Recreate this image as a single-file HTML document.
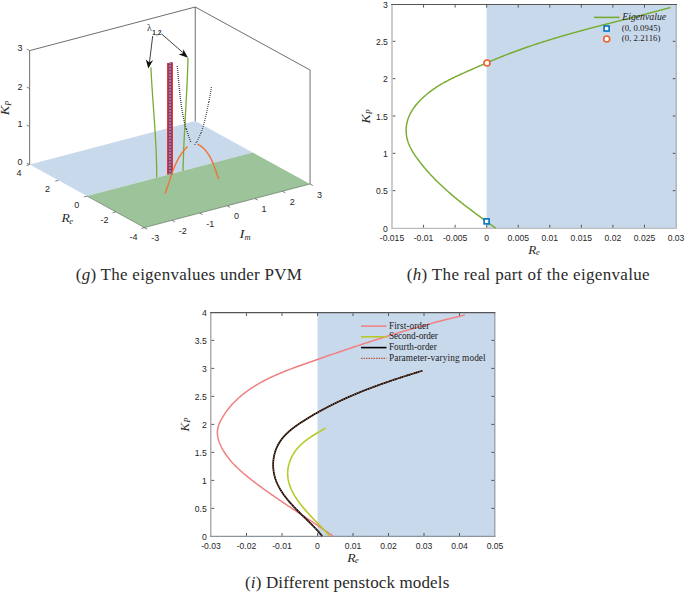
<!DOCTYPE html>
<html><head><meta charset="utf-8"><title>Figure</title>
<style>html,body{margin:0;padding:0;background:#fff;overflow:hidden;}svg{display:block;}</style>
</head><body>
<svg width="685" height="593" viewBox="0 0 685 593">
<rect width="685" height="593" fill="#fff"/>
<polyline points="29.65,164.60 29.65,50.60 195.25,7.00 310.05,70.00 310.05,184.00" fill="none" stroke="#5e5e5e" stroke-width="0.9"/>
<line x1="195.25" y1="7.00" x2="195.25" y2="121.00" stroke="#5e5e5e" stroke-width="0.9"/>
<polygon points="29.65,164.60 195.25,121.00 252.65,152.50 87.05,196.10" fill="#c9d9ec"/>
<polygon points="87.05,196.10 252.65,152.50 310.05,184.00 144.45,227.60" fill="#9cc39a"/>
<polyline points="87.05,196.10 144.45,227.60 310.05,184.00" fill="none" stroke="#4e5e4e" stroke-width="0.7" stroke-opacity="0.8"/>
<g stroke="#5e5e5e" stroke-width="0.8">
<line x1="29.65" y1="164.60" x2="26.84" y2="163.06"/>
<line x1="29.65" y1="126.60" x2="26.84" y2="125.06"/>
<line x1="29.65" y1="88.60" x2="26.84" y2="87.06"/>
<line x1="29.65" y1="50.60" x2="26.84" y2="49.06"/>
<line x1="29.65" y1="164.60" x2="26.56" y2="165.42"/>
<line x1="58.35" y1="180.35" x2="55.26" y2="181.17"/>
<line x1="87.05" y1="196.10" x2="83.96" y2="196.92"/>
<line x1="115.75" y1="211.85" x2="112.66" y2="212.67"/>
<line x1="144.45" y1="227.60" x2="141.36" y2="228.42"/>
<line x1="144.45" y1="227.60" x2="147.26" y2="229.14"/>
<line x1="172.05" y1="220.33" x2="174.86" y2="221.87"/>
<line x1="199.65" y1="213.07" x2="202.46" y2="214.61"/>
<line x1="227.25" y1="205.80" x2="230.06" y2="207.34"/>
<line x1="254.85" y1="198.53" x2="257.66" y2="200.07"/>
<line x1="282.45" y1="191.27" x2="285.26" y2="192.81"/>
<line x1="310.05" y1="184.00" x2="312.86" y2="185.54"/>
</g>
<g font-family="'Liberation Sans', sans-serif" font-size="9" fill="#262626" text-anchor="middle">
<text x="20" y="51.3">3</text>
<text x="20" y="89.7">2</text>
<text x="20" y="127.3">1</text>
<text x="20" y="165.0">0</text>
<text x="19.0" y="175.6">4</text>
<text x="47.6" y="191.5">2</text>
<text x="76.8" y="207.7">0</text>
<text x="104.4" y="223.3">-2</text>
<text x="133.6" y="239.9">-4</text>
<text x="155.3" y="240.9">-3</text>
<text x="182.8" y="234.0">-2</text>
<text x="210.3" y="226.8">-1</text>
<text x="236.4" y="218.8">0</text>
<text x="264.1" y="211.8">1</text>
<text x="292.3" y="204.6">2</text>
<text x="319.5" y="197.7">3</text>
</g>
<g transform="translate(9.40,115.30) rotate(-90)" font-family="'Liberation Serif', serif" font-style="italic" fill="#2a2a2a">
<text x="0" y="0" font-size="12.00" textLength="9.60" lengthAdjust="spacingAndGlyphs">K</text>
<text x="9.60" y="1.40" font-size="8.00">P</text>
</g>
<g font-family="'Liberation Serif', serif" font-style="italic" fill="#2a2a2a">
<text x="61.60" y="222.40" font-size="12.50" textLength="8.30" lengthAdjust="spacingAndGlyphs">R</text>
<text x="69.20" y="223.60" font-size="8.50">e</text>
</g>
<g font-family="'Liberation Serif', serif" font-style="italic" fill="#2a2a2a">
<text x="239.50" y="238.40" font-size="12.50" textLength="5.00" lengthAdjust="spacingAndGlyphs">I</text>
<text x="244.40" y="239.50" font-size="8.50">m</text>
</g>
<path d="M150.90,67.40 L150.92,67.77 L150.93,68.14 L150.95,68.51 L150.97,68.87 L150.99,69.24 L151.01,69.61 L151.02,69.98 L151.04,70.35 L151.06,70.72 L151.08,71.09 L151.10,71.46 L151.12,71.82 L151.14,72.19 L151.16,72.56 L151.18,72.93 L151.20,73.30 L151.22,73.67 L151.24,74.04 L151.26,74.40 L151.28,74.77 L151.30,75.14 L151.32,75.51 L151.34,75.88 L151.36,76.25 L151.38,76.62 L151.40,76.98 L151.42,77.35 L151.44,77.72 L151.46,78.09 L151.49,78.46 L151.51,78.83 L151.53,79.20 L151.55,79.56 L151.57,79.93 L151.59,80.30 L151.62,80.67 L151.64,81.04 L151.66,81.41 L151.68,81.77 L151.71,82.14 L151.73,82.51 L151.75,82.88 L151.77,83.25 L151.80,83.62 L151.82,83.98 L151.84,84.35 L151.87,84.72 L151.89,85.09 L151.91,85.46 L151.94,85.83 L151.96,86.19 L151.99,86.56 L152.01,86.93 L152.03,87.30 L152.06,87.67 L152.08,88.04 L152.11,88.40 L152.13,88.77 L152.15,89.14 L152.18,89.51 L152.20,89.88 L152.23,90.25 L152.25,90.61 L152.28,90.98 L152.30,91.35 L152.33,91.72 L152.35,92.09 L152.38,92.46 L152.40,92.82 L152.43,93.19 L152.45,93.56 L152.48,93.93 L152.50,94.30 L152.53,94.67 L152.55,95.03 L152.58,95.40 L152.60,95.77 L152.63,96.14 L152.66,96.51 L152.68,96.88 L152.71,97.24 L152.73,97.61 L152.76,97.98 L152.78,98.35 L152.81,98.72 L152.84,99.08 L152.86,99.45 L152.89,99.82 L152.91,100.19 L152.94,100.56 L152.97,100.93 L152.99,101.29 L153.02,101.66 L153.04,102.03 L153.07,102.40 L153.10,102.77 L153.12,103.13 L153.15,103.50 L153.17,103.87 L153.20,104.24 L153.23,104.61 L153.25,104.98 L153.28,105.34 L153.31,105.71 L153.33,106.08 L153.36,106.45 L153.38,106.82 L153.41,107.18 L153.44,107.55 L153.46,107.92 L153.49,108.29 L153.52,108.66 L153.54,109.03 L153.57,109.39 L153.60,109.76 L153.62,110.13 L153.65,110.50 L153.67,110.87 L153.70,111.23 L153.73,111.60 L153.75,111.97 L153.78,112.34 L153.80,112.71 L153.83,113.08 L153.86,113.44 L153.88,113.81 L153.91,114.18 L153.94,114.55 L153.96,114.92 L153.99,115.29 L154.01,115.65 L154.04,116.02 L154.07,116.39 L154.09,116.76 L154.12,117.13 L154.14,117.49 L154.17,117.86 L154.19,118.23 L154.22,118.60 L154.25,118.97 L154.27,119.34 L154.30,119.70 L154.32,120.07 L154.35,120.44 L154.37,120.81 L154.40,121.18 L154.42,121.54 L154.45,121.91 L154.47,122.28 L154.50,122.65 L154.52,123.02 L154.55,123.39 L154.57,123.75 L154.60,124.12 L154.62,124.49 L154.65,124.86 L154.67,125.23 L154.70,125.60 L154.72,125.96 L154.75,126.33 L154.77,126.70 L154.79,127.07 L154.82,127.44 L154.84,127.81 L154.87,128.17 L154.89,128.54 L154.91,128.91 L154.94,129.28 L154.96,129.65 L154.98,130.02 L155.01,130.38 L155.03,130.75 L155.05,131.12 L155.08,131.49 L155.10,131.86 L155.12,132.23 L155.15,132.59 L155.17,132.96 L155.19,133.33 L155.21,133.70 L155.24,134.07 L155.26,134.44 L155.28,134.80 L155.30,135.17 L155.33,135.54 L155.35,135.91 L155.37,136.28 L155.39,136.65 L155.41,137.01 L155.43,137.38 L155.45,137.75 L155.48,138.12 L155.50,138.49 L155.52,138.86 L155.54,139.22 L155.56,139.59 L155.58,139.96 L155.60,140.33 L155.62,140.70 L155.64,141.07 L155.66,141.44 L155.68,141.80 L155.70,142.17 L155.72,142.54 L155.74,142.91 L155.76,143.28 L155.78,143.65 L155.80,144.02 L155.81,144.38 L155.83,144.75 L155.85,145.12 L155.87,145.49 L155.89,145.86 L155.91,146.23 L155.92,146.60 L155.94,146.96 L155.96,147.33 L155.98,147.70 L155.99,148.07 L156.01,148.44 L156.03,148.81 L156.04,149.18 L156.06,149.55 L156.08,149.91 L156.09,150.28 L156.11,150.65 L156.13,151.02 L156.14,151.39 L156.16,151.76 L156.17,152.13 L156.19,152.50 L156.20,152.86 L156.22,153.23 L156.23,153.60 L156.25,153.97 L156.26,154.34 L156.27,154.71 L156.29,155.08 L156.30,155.45 L156.31,155.81 L156.33,156.18 L156.34,156.55 L156.35,156.92 L156.37,157.29 L156.38,157.66 L156.39,158.03 L156.40,158.40 L156.41,158.77 L156.43,159.13 L156.44,159.50 L156.45,159.87 L156.46,160.24 L156.47,160.61 L156.48,160.98 L156.49,161.35 L156.50,161.72 L156.51,162.09 L156.52,162.46 L156.53,162.83 L156.54,163.19 L156.55,163.56 L156.56,163.93 L156.56,164.30 L156.57,164.67 L156.58,165.04 L156.59,165.41 L156.60,165.78 L156.60,166.15 L156.61,166.52 L156.62,166.89 L156.62,167.26 L156.63,167.62 L156.64,167.99 L156.64,168.36 L156.65,168.73 L156.65,169.10 L156.66,169.47 L156.66,169.84 L156.67,170.21 L156.67,170.58 L156.67,170.95 L156.68,171.32 L156.68,171.69 L156.68,172.06 L156.69,172.43 L156.69,172.80 L156.69,173.17 L156.70,173.53 L156.70,173.90 L156.70,174.27 L156.70,174.64 L156.70,175.01 L156.70,175.38 L156.70,175.75 L156.70,176.12 L156.70,176.49 L156.70,176.86 L156.70,177.23 L156.70,177.60" fill="none" stroke="#77ac30" stroke-width="1.3"/>
<path d="M188.00,58.00 L187.99,58.38 L187.98,58.76 L187.97,59.13 L187.96,59.51 L187.95,59.89 L187.94,60.27 L187.93,60.65 L187.92,61.03 L187.91,61.40 L187.90,61.78 L187.88,62.16 L187.87,62.54 L187.86,62.92 L187.85,63.29 L187.84,63.67 L187.83,64.05 L187.81,64.43 L187.80,64.81 L187.79,65.19 L187.78,65.56 L187.77,65.94 L187.75,66.32 L187.74,66.70 L187.73,67.08 L187.71,67.45 L187.70,67.83 L187.69,68.21 L187.67,68.59 L187.66,68.97 L187.65,69.34 L187.63,69.72 L187.62,70.10 L187.61,70.48 L187.59,70.86 L187.58,71.24 L187.56,71.61 L187.55,71.99 L187.53,72.37 L187.52,72.75 L187.50,73.13 L187.49,73.50 L187.48,73.88 L187.46,74.26 L187.44,74.64 L187.43,75.02 L187.41,75.39 L187.40,75.77 L187.38,76.15 L187.37,76.53 L187.35,76.91 L187.34,77.28 L187.32,77.66 L187.30,78.04 L187.29,78.42 L187.27,78.79 L187.25,79.17 L187.24,79.55 L187.22,79.93 L187.21,80.31 L187.19,80.68 L187.17,81.06 L187.15,81.44 L187.14,81.82 L187.12,82.20 L187.10,82.57 L187.09,82.95 L187.07,83.33 L187.05,83.71 L187.03,84.09 L187.02,84.46 L187.00,84.84 L186.98,85.22 L186.96,85.60 L186.95,85.98 L186.93,86.35 L186.91,86.73 L186.89,87.11 L186.87,87.49 L186.86,87.86 L186.84,88.24 L186.82,88.62 L186.80,89.00 L186.78,89.38 L186.76,89.75 L186.74,90.13 L186.73,90.51 L186.71,90.89 L186.69,91.27 L186.67,91.64 L186.65,92.02 L186.63,92.40 L186.61,92.78 L186.59,93.15 L186.57,93.53 L186.56,93.91 L186.54,94.29 L186.52,94.67 L186.50,95.04 L186.48,95.42 L186.46,95.80 L186.44,96.18 L186.42,96.55 L186.40,96.93 L186.38,97.31 L186.36,97.69 L186.34,98.07 L186.32,98.44 L186.30,98.82 L186.28,99.20 L186.26,99.58 L186.24,99.95 L186.22,100.33 L186.20,100.71 L186.18,101.09 L186.16,101.47 L186.14,101.84 L186.12,102.22 L186.10,102.60 L186.08,102.98 L186.06,103.35 L186.04,103.73 L186.02,104.11 L186.00,104.49 L185.98,104.87 L185.96,105.24 L185.94,105.62 L185.92,106.00 L185.90,106.38 L185.88,106.75 L185.86,107.13 L185.84,107.51 L185.82,107.89 L185.80,108.27 L185.78,108.64 L185.76,109.02 L185.74,109.40 L185.72,109.78 L185.70,110.15 L185.68,110.53 L185.65,110.91 L185.63,111.29 L185.61,111.67 L185.59,112.04 L185.57,112.42 L185.55,112.80 L185.53,113.18 L185.51,113.55 L185.49,113.93 L185.47,114.31 L185.45,114.69 L185.43,115.06 L185.41,115.44 L185.39,115.82 L185.37,116.20 L185.35,116.58 L185.33,116.95 L185.31,117.33 L185.29,117.71 L185.27,118.09 L185.24,118.46 L185.22,118.84 L185.20,119.22 L185.18,119.60 L185.16,119.98 L185.14,120.35 L185.12,120.73 L185.10,121.11 L185.08,121.49 L185.06,121.86 L185.04,122.24 L185.02,122.62 L185.00,123.00 L184.98,123.38 L184.96,123.75 L184.94,124.13 L184.92,124.51 L184.90,124.89 L184.88,125.26 L184.86,125.64 L184.84,126.02 L184.82,126.40 L184.80,126.78 L184.78,127.15 L184.76,127.53 L184.74,127.91 L184.72,128.29 L184.70,128.66 L184.68,129.04 L184.66,129.42 L184.64,129.80 L184.62,130.18 L184.60,130.55 L184.58,130.93 L184.57,131.31 L184.55,131.69 L184.53,132.06 L184.51,132.44 L184.49,132.82 L184.47,133.20 L184.45,133.58 L184.43,133.95 L184.41,134.33 L184.39,134.71 L184.37,135.09 L184.36,135.46 L184.34,135.84 L184.32,136.22 L184.30,136.60 L184.28,136.98 L184.26,137.35 L184.24,137.73 L184.23,138.11 L184.21,138.49 L184.19,138.87 L184.17,139.24 L184.15,139.62 L184.14,140.00 L184.12,140.38 L184.10,140.75 L184.08,141.13 L184.06,141.51 L184.05,141.89 L184.03,142.27 L184.01,142.64 L183.99,143.02 L183.98,143.40 L183.96,143.78 L183.94,144.16 L183.93,144.53 L183.91,144.91 L183.89,145.29 L183.87,145.67 L183.86,146.05 L183.84,146.42 L183.82,146.80 L183.81,147.18 L183.79,147.56 L183.78,147.94 L183.76,148.31 L183.74,148.69 L183.73,149.07 L183.71,149.45 L183.70,149.82 L183.68,150.20 L183.66,150.58 L183.65,150.96 L183.63,151.34 L183.62,151.71 L183.60,152.09 L183.59,152.47 L183.57,152.85 L183.56,153.23 L183.54,153.60 L183.53,153.98 L183.51,154.36 L183.50,154.74 L183.49,155.12 L183.47,155.50 L183.46,155.87 L183.44,156.25 L183.43,156.63 L183.42,157.01 L183.40,157.39 L183.39,157.76 L183.38,158.14 L183.36,158.52 L183.35,158.90 L183.34,159.28 L183.32,159.65 L183.31,160.03 L183.30,160.41 L183.29,160.79 L183.27,161.17 L183.26,161.54 L183.25,161.92 L183.24,162.30 L183.23,162.68 L183.21,163.06 L183.20,163.44 L183.19,163.81 L183.18,164.19 L183.17,164.57 L183.16,164.95 L183.15,165.33 L183.14,165.70 L183.12,166.08 L183.11,166.46 L183.10,166.84 L183.09,167.22 L183.08,167.60 L183.07,167.97 L183.06,168.35 L183.05,168.73 L183.04,169.11 L183.04,169.49 L183.03,169.87 L183.02,170.24 L183.01,170.62 L183.00,171.00" fill="none" stroke="#77ac30" stroke-width="1.3"/>
<line x1="168.05" y1="63" x2="168.05" y2="174.6" stroke="#ee1c24" stroke-width="1.9"/>
<line x1="171.95" y1="62.2" x2="171.95" y2="174.6" stroke="#ee1c24" stroke-width="1.9"/>
<line x1="170" y1="62.2" x2="170" y2="174.6" stroke="#1464b4" stroke-width="2"/>
<line x1="170" y1="62.2" x2="170" y2="174.6" stroke="#a8cdee" stroke-width="1.2" stroke-dasharray="1.5 1.5"/>
<path d="M165.04,193.45 L165.10,193.29 L165.16,193.13 L165.22,192.97 L165.29,192.81 L165.35,192.65 L165.41,192.49 L165.47,192.33 L165.54,192.17 L165.60,192.00 L165.66,191.84 L165.72,191.68 L165.78,191.52 L165.84,191.36 L165.90,191.19 L165.96,191.03 L166.02,190.87 L166.08,190.71 L166.14,190.54 L166.20,190.38 L166.26,190.22 L166.32,190.05 L166.38,189.89 L166.44,189.73 L166.50,189.56 L166.56,189.40 L166.62,189.23 L166.68,189.07 L166.74,188.90 L166.79,188.74 L166.85,188.57 L166.91,188.41 L166.97,188.24 L167.03,188.08 L167.08,187.91 L167.14,187.75 L167.20,187.58 L167.26,187.42 L167.32,187.25 L167.37,187.09 L167.43,186.92 L167.49,186.75 L167.54,186.59 L167.60,186.42 L167.66,186.25 L167.71,186.09 L167.77,185.92 L167.83,185.75 L167.88,185.59 L167.94,185.42 L168.00,185.25 L168.05,185.09 L168.11,184.92 L168.17,184.75 L168.22,184.58 L168.28,184.42 L168.34,184.25 L168.39,184.08 L168.45,183.91 L168.50,183.74 L168.56,183.58 L168.62,183.41 L168.67,183.24 L168.73,183.07 L168.78,182.90 L168.84,182.74 L168.89,182.57 L168.95,182.40 L169.01,182.23 L169.06,182.06 L169.12,181.89 L169.17,181.72 L169.23,181.56 L169.28,181.39 L169.34,181.22 L169.40,181.05 L169.45,180.88 L169.51,180.71 L169.56,180.54 L169.62,180.37 L169.67,180.20 L169.73,180.04 L169.79,179.87 L169.84,179.70 L169.90,179.53 L169.95,179.36 L170.01,179.19 L170.07,179.02 L170.12,178.85 L170.18,178.68 L170.24,178.51 L170.29,178.34 L170.35,178.18 L170.40,178.01 L170.46,177.84 L170.52,177.67 L170.57,177.50 L170.63,177.33 L170.69,177.16 L170.74,176.99 L170.80,176.82 L170.86,176.65 L170.91,176.48 L170.97,176.32 L171.03,176.15 L171.09,175.98 L171.14,175.81 L171.20,175.64 L171.26,175.47 L171.32,175.30 L171.37,175.13 L171.43,174.96 L171.49,174.80 L171.55,174.63 L171.61,174.46 L171.67,174.29 L171.72,174.12 L171.78,173.95 L171.84,173.78 L171.90,173.62 L171.96,173.45 L172.02,173.28 L172.08,173.11 L172.14,172.94 L172.20,172.78 L172.26,172.61 L172.32,172.44 L172.38,172.27 L172.44,172.10 L172.50,171.94 L172.56,171.77 L172.62,171.60 L172.68,171.43 L172.74,171.27 L172.80,171.10 L172.87,170.93 L172.93,170.77 L172.99,170.60 L173.05,170.43 L173.11,170.27 L173.18,170.10 L173.24,169.93 L173.30,169.77 L173.37,169.60 L173.43,169.43 L173.49,169.27 L173.56,169.10 L173.62,168.94 L173.69,168.77 L173.75,168.60 L173.81,168.44 L173.88,168.27 L173.94,168.11 L174.01,167.94 L174.08,167.78 L174.14,167.61 L174.21,167.45 L174.27,167.29 L174.34,167.12 L174.41,166.96 L174.48,166.79 L174.54,166.63 L174.61,166.47 L174.68,166.30 L174.75,166.14 L174.82,165.98 L174.88,165.81 L174.95,165.65 L175.02,165.49 L175.09,165.32 L175.16,165.16 L175.23,165.00 L175.30,164.84 L175.37,164.68 L175.44,164.51 L175.52,164.35 L175.59,164.19 L175.66,164.03 L175.73,163.87 L175.80,163.71 L175.88,163.55 L175.95,163.39 L176.02,163.23 L176.10,163.07 L176.17,162.91 L176.25,162.75 L176.32,162.59 L176.40,162.43 L176.47,162.27 L176.55,162.11 L176.63,161.95 L176.70,161.80 L176.78,161.64 L176.86,161.48 L176.93,161.32 L177.01,161.16 L177.09,161.01 L177.17,160.85 L177.25,160.69 L177.33,160.54 L177.41,160.38 L177.49,160.23 L177.57,160.07 L177.65,159.91 L177.73,159.76 L177.81,159.60 L177.90,159.45 L177.98,159.30 L178.06,159.14 L178.15,158.99 L178.23,158.83 L178.31,158.68 L178.40,158.53 L178.48,158.37 L178.57,158.22 L178.66,158.07 L178.74,157.92 L178.83,157.77 L178.92,157.61 L179.00,157.46 L179.09,157.31 L179.18,157.16 L179.27,157.01 L179.36,156.86 L179.45,156.71 L179.54,156.56 L179.63,156.41 L179.72,156.26 L179.81,156.12 L179.91,155.97 L180.00,155.82 L180.09,155.67 L180.19,155.53 L180.28,155.38 L180.37,155.23 L180.47,155.09 L180.57,154.94 L180.66,154.79 L180.76,154.65 L180.85,154.50 L180.95,154.36 L181.05,154.21 L181.15,154.07 L181.25,153.93 L181.35,153.78 L181.45,153.64 L181.55,153.50 L181.65,153.35 L181.75,153.21 L181.85,153.07 L181.96,152.93 L182.06,152.79 L182.16,152.65 L182.27,152.51 L182.37,152.37 L182.48,152.23 L182.58,152.09 L182.69,151.95 L182.80,151.81 L182.90,151.67 L183.01,151.54 L183.12,151.40 L183.23,151.26 L183.34,151.13 L183.45,150.99 L183.56,150.85 L183.67,150.72 L183.78,150.58 L183.90,150.45 L184.01,150.31 L184.12,150.18 L184.24,150.05 L184.35,149.91 L184.47,149.78 L184.58,149.65 L184.70,149.52 L184.82,149.39 L184.94,149.26 L185.05,149.12 L185.17,148.99 L185.29,148.86 L185.41,148.74 L185.53,148.61 L185.66,148.48 L185.78,148.35 L185.90,148.22 L186.03,148.10 L186.15,147.97 L186.27,147.84 L186.40,147.72 L186.53,147.59 L186.65,147.47 L186.78,147.34 L186.91,147.22 L187.04,147.09 L187.17,146.97 L187.30,146.85 L187.43,146.73 L187.56,146.60 L187.69,146.48" fill="none" stroke="#f07030" stroke-width="1.4"/>
<path d="M197.50,144.06 L197.64,144.13 L197.76,144.20 L197.89,144.27 L198.02,144.34 L198.15,144.41 L198.28,144.48 L198.40,144.55 L198.53,144.62 L198.66,144.69 L198.78,144.77 L198.90,144.84 L199.03,144.91 L199.15,144.99 L199.27,145.06 L199.39,145.14 L199.52,145.22 L199.64,145.29 L199.76,145.37 L199.88,145.45 L199.99,145.53 L200.11,145.60 L200.23,145.68 L200.35,145.76 L200.46,145.85 L200.58,145.93 L200.69,146.01 L200.81,146.09 L200.92,146.17 L201.04,146.26 L201.15,146.34 L201.26,146.42 L201.37,146.51 L201.49,146.59 L201.60,146.68 L201.71,146.77 L201.82,146.85 L201.93,146.94 L202.03,147.03 L202.14,147.12 L202.25,147.21 L202.36,147.30 L202.46,147.39 L202.57,147.48 L202.68,147.57 L202.78,147.66 L202.88,147.75 L202.99,147.84 L203.09,147.93 L203.19,148.03 L203.30,148.12 L203.40,148.22 L203.50,148.31 L203.60,148.41 L203.70,148.50 L203.80,148.60 L203.90,148.69 L204.00,148.79 L204.10,148.89 L204.19,148.99 L204.29,149.08 L204.39,149.18 L204.48,149.28 L204.58,149.38 L204.68,149.48 L204.77,149.58 L204.87,149.68 L204.96,149.78 L205.05,149.89 L205.15,149.99 L205.24,150.09 L205.33,150.19 L205.42,150.30 L205.51,150.40 L205.60,150.50 L205.69,150.61 L205.78,150.71 L205.87,150.82 L205.96,150.92 L206.05,151.03 L206.14,151.14 L206.22,151.24 L206.31,151.35 L206.40,151.46 L206.48,151.57 L206.57,151.68 L206.66,151.78 L206.74,151.89 L206.82,152.00 L206.91,152.11 L206.99,152.22 L207.08,152.33 L207.16,152.44 L207.24,152.56 L207.32,152.67 L207.40,152.78 L207.49,152.89 L207.57,153.00 L207.65,153.12 L207.73,153.23 L207.81,153.34 L207.88,153.46 L207.96,153.57 L208.04,153.69 L208.12,153.80 L208.20,153.92 L208.27,154.03 L208.35,154.15 L208.43,154.27 L208.50,154.38 L208.58,154.50 L208.65,154.62 L208.73,154.73 L208.80,154.85 L208.88,154.97 L208.95,155.09 L209.02,155.21 L209.10,155.32 L209.17,155.44 L209.24,155.56 L209.31,155.68 L209.39,155.80 L209.46,155.92 L209.53,156.04 L209.60,156.17 L209.67,156.29 L209.74,156.41 L209.81,156.53 L209.88,156.65 L209.95,156.77 L210.01,156.90 L210.08,157.02 L210.15,157.14 L210.22,157.26 L210.28,157.39 L210.35,157.51 L210.42,157.64 L210.48,157.76 L210.55,157.88 L210.62,158.01 L210.68,158.13 L210.75,158.26 L210.81,158.38 L210.88,158.51 L210.94,158.63 L211.00,158.76 L211.07,158.89 L211.13,159.01 L211.19,159.14 L211.26,159.27 L211.32,159.39 L211.38,159.52 L211.44,159.65 L211.50,159.77 L211.56,159.90 L211.63,160.03 L211.69,160.16 L211.75,160.29 L211.81,160.41 L211.87,160.54 L211.93,160.67 L211.99,160.80 L212.04,160.93 L212.10,161.06 L212.16,161.19 L212.22,161.32 L212.28,161.45 L212.34,161.58 L212.39,161.71 L212.45,161.84 L212.51,161.97 L212.57,162.10 L212.62,162.23 L212.68,162.36 L212.73,162.49 L212.79,162.62 L212.85,162.75 L212.90,162.88 L212.96,163.02 L213.01,163.15 L213.07,163.28 L213.12,163.41 L213.18,163.54 L213.23,163.67 L213.28,163.81 L213.34,163.94 L213.39,164.07 L213.44,164.20 L213.50,164.33 L213.55,164.47 L213.60,164.60 L213.66,164.73 L213.71,164.86 L213.76,165.00 L213.81,165.13 L213.86,165.26 L213.92,165.40 L213.97,165.53 L214.02,165.66 L214.07,165.80 L214.12,165.93 L214.17,166.06 L214.22,166.20 L214.27,166.33 L214.32,166.46 L214.37,166.60 L214.42,166.73 L214.47,166.86 L214.52,167.00 L214.57,167.13 L214.62,167.27 L214.67,167.40 L214.72,167.53 L214.77,167.67 L214.82,167.80 L214.87,167.94 L214.92,168.07 L214.96,168.20 L215.01,168.34 L215.06,168.47 L215.11,168.61 L215.16,168.74 L215.20,168.87 L215.25,169.01 L215.30,169.14 L215.35,169.28 L215.39,169.41 L215.44,169.54 L215.49,169.68 L215.54,169.81 L215.58,169.95 L215.63,170.08 L215.68,170.21 L215.72,170.35 L215.77,170.48 L215.82,170.61 L215.86,170.75 L215.91,170.88 L215.95,171.02 L216.00,171.15 L216.05,171.28 L216.09,171.42 L216.14,171.55 L216.18,171.68 L216.23,171.82 L216.27,171.95 L216.32,172.08 L216.37,172.22 L216.41,172.35 L216.46,172.48 L216.50,172.62 L216.55,172.75 L216.59,172.88 L216.64,173.01 L216.68,173.15 L216.73,173.28 L216.77,173.41 L216.82,173.54 L216.86,173.68 L216.91,173.81 L216.95,173.94 L217.00,174.07 L217.04,174.21 L217.09,174.34 L217.13,174.47 L217.18,174.60 L217.22,174.73 L217.27,174.86 L217.31,174.99 L217.36,175.13 L217.40,175.26 L217.45,175.39 L217.49,175.52 L217.53,175.65 L217.58,175.78 L217.62,175.91 L217.67,176.04 L217.71,176.17 L217.76,176.30 L217.80,176.43 L217.85,176.56 L217.89,176.69 L217.94,176.82 L217.98,176.95 L218.03,177.08 L218.07,177.20 L218.12,177.33 L218.16,177.46 L218.21,177.59 L218.25,177.72 L218.30,177.84 L218.34,177.97 L218.39,178.10 L218.43,178.23 L218.48,178.35 L218.52,178.48 L218.57,178.61 L218.61,178.73 L218.66,178.86 L218.70,178.99" fill="none" stroke="#f07030" stroke-width="1.4"/>
<g fill="#404040"><rect x="176.61" y="66.03" width="1.40" height="0.95"/><rect x="176.80" y="68.03" width="1.40" height="0.95"/><rect x="176.98" y="70.03" width="1.40" height="0.95"/><rect x="177.16" y="72.03" width="1.40" height="0.95"/><rect x="177.34" y="74.03" width="1.40" height="0.95"/><rect x="177.52" y="76.03" width="1.40" height="0.95"/><rect x="177.69" y="78.03" width="1.40" height="0.95"/><rect x="177.87" y="80.03" width="1.40" height="0.95"/><rect x="178.05" y="82.03" width="1.40" height="0.95"/><rect x="178.23" y="84.03" width="1.40" height="0.95"/><rect x="178.42" y="86.03" width="1.40" height="0.95"/><rect x="178.61" y="88.03" width="1.40" height="0.95"/><rect x="178.81" y="90.03" width="1.40" height="0.95"/><rect x="179.02" y="92.03" width="1.40" height="0.95"/><rect x="179.23" y="94.03" width="1.40" height="0.95"/><rect x="179.46" y="96.03" width="1.40" height="0.95"/><rect x="179.69" y="98.03" width="1.40" height="0.95"/><rect x="179.94" y="100.03" width="1.40" height="0.95"/><rect x="180.20" y="102.03" width="1.40" height="0.95"/><rect x="180.48" y="104.03" width="1.40" height="0.95"/><rect x="180.77" y="106.03" width="1.40" height="0.95"/><rect x="181.07" y="108.03" width="1.40" height="0.95"/><rect x="181.40" y="110.03" width="1.40" height="0.95"/><rect x="181.74" y="112.03" width="1.40" height="0.95"/><rect x="182.10" y="114.03" width="1.40" height="0.95"/><rect x="182.49" y="116.03" width="1.40" height="0.95"/><rect x="182.89" y="118.03" width="1.40" height="0.95"/><rect x="183.32" y="120.03" width="1.40" height="0.95"/><rect x="183.78" y="122.03" width="1.40" height="0.95"/><rect x="184.25" y="124.03" width="1.40" height="0.95"/><rect x="184.76" y="126.03" width="1.40" height="0.95"/><rect x="185.29" y="128.03" width="1.40" height="0.95"/><rect x="185.85" y="129.03" width="1.40" height="0.95"/><rect x="186.44" y="131.03" width="1.40" height="0.95"/><rect x="187.06" y="133.03" width="1.40" height="0.95"/><rect x="187.71" y="135.03" width="1.40" height="0.95"/><rect x="188.39" y="137.03" width="1.40" height="0.95"/><rect x="189.11" y="139.03" width="1.40" height="0.95"/><rect x="189.86" y="141.03" width="1.40" height="0.95"/></g>
<g fill="#444"><rect x="194.27" y="144.05" width="1.25" height="0.90"/><rect x="195.42" y="142.05" width="1.25" height="0.90"/><rect x="196.48" y="141.05" width="1.25" height="0.90"/><rect x="197.45" y="139.05" width="1.25" height="0.90"/><rect x="198.35" y="137.05" width="1.25" height="0.90"/><rect x="199.18" y="135.05" width="1.25" height="0.90"/><rect x="199.95" y="133.05" width="1.25" height="0.90"/><rect x="200.66" y="132.05" width="1.25" height="0.90"/><rect x="201.31" y="130.05" width="1.25" height="0.90"/><rect x="201.93" y="128.05" width="1.25" height="0.90"/><rect x="202.51" y="126.05" width="1.25" height="0.90"/><rect x="203.07" y="124.05" width="1.25" height="0.90"/><rect x="203.60" y="122.05" width="1.25" height="0.90"/><rect x="204.12" y="120.05" width="1.25" height="0.90"/><rect x="204.61" y="118.05" width="1.25" height="0.90"/><rect x="205.08" y="116.05" width="1.25" height="0.90"/><rect x="205.54" y="114.05" width="1.25" height="0.90"/><rect x="205.98" y="112.05" width="1.25" height="0.90"/><rect x="206.41" y="110.05" width="1.25" height="0.90"/><rect x="206.82" y="108.05" width="1.25" height="0.90"/><rect x="207.22" y="106.05" width="1.25" height="0.90"/><rect x="207.61" y="104.05" width="1.25" height="0.90"/><rect x="207.99" y="102.05" width="1.25" height="0.90"/><rect x="208.35" y="101.05" width="1.25" height="0.90"/><rect x="208.71" y="99.05" width="1.25" height="0.90"/><rect x="209.06" y="97.05" width="1.25" height="0.90"/><rect x="209.41" y="95.05" width="1.25" height="0.90"/><rect x="209.75" y="93.05" width="1.25" height="0.90"/><rect x="210.08" y="91.05" width="1.25" height="0.90"/><rect x="210.42" y="89.05" width="1.25" height="0.90"/><rect x="210.75" y="87.05" width="1.25" height="0.90"/></g>
<line x1="152.7" y1="36" x2="149.4" y2="63" stroke="#111" stroke-width="0.8"/>
<polygon points="148.3,68.4 145.8,59.5 149.4,62.6 153.2,60.1" fill="#111"/>
<line x1="161.5" y1="33.9" x2="184" y2="53.5" stroke="#111" stroke-width="0.8"/>
<polygon points="188,57.8 178.7,54.6 183.0,53.3 183.3,49.2" fill="#111"/>
<text x="147" y="31" font-family="'Liberation Serif', serif" font-size="10" fill="#333">&#955;</text>
<text x="152.3" y="34.8" font-family="'Liberation Sans', sans-serif" font-size="6.5" font-weight="bold" fill="#333">1,2</text>
<rect x="486.60" y="4" width="189.60" height="224.3" fill="#c9d9ec"/>
<g fill="none">
<line x1="392" y1="4" x2="392" y2="228.8" stroke="#c4c4c4" stroke-width="1.7"/>
<line x1="676.2" y1="4" x2="676.2" y2="228.8" stroke="#aab4c0" stroke-width="1.4"/>
<line x1="391.2" y1="228.3" x2="677" y2="228.3" stroke="#bcbcbc" stroke-width="1.3"/>
<line x1="391.2" y1="4.5" x2="677" y2="4.5" stroke="#555" stroke-width="1.1"/>
</g>
<g stroke="#444" stroke-width="0.9">
<line x1="423.56" y1="227.6" x2="423.56" y2="224.8"/>
<line x1="423.56" y1="5" x2="423.56" y2="7.6"/>
<line x1="455.12" y1="227.6" x2="455.12" y2="224.8"/>
<line x1="455.12" y1="5" x2="455.12" y2="7.6"/>
<line x1="486.68" y1="227.6" x2="486.68" y2="224.8"/>
<line x1="486.68" y1="5" x2="486.68" y2="7.6"/>
<line x1="518.24" y1="227.6" x2="518.24" y2="224.8"/>
<line x1="518.24" y1="5" x2="518.24" y2="7.6"/>
<line x1="549.80" y1="227.6" x2="549.80" y2="224.8"/>
<line x1="549.80" y1="5" x2="549.80" y2="7.6"/>
<line x1="581.36" y1="227.6" x2="581.36" y2="224.8"/>
<line x1="581.36" y1="5" x2="581.36" y2="7.6"/>
<line x1="612.92" y1="227.6" x2="612.92" y2="224.8"/>
<line x1="612.92" y1="5" x2="612.92" y2="7.6"/>
<line x1="644.48" y1="227.6" x2="644.48" y2="224.8"/>
<line x1="644.48" y1="5" x2="644.48" y2="7.6"/>
<line x1="392.8" y1="190.66" x2="395.4" y2="190.66"/>
<line x1="675.4" y1="190.66" x2="672.8" y2="190.66"/>
<line x1="392.8" y1="153.33" x2="395.4" y2="153.33"/>
<line x1="675.4" y1="153.33" x2="672.8" y2="153.33"/>
<line x1="392.8" y1="116.00" x2="395.4" y2="116.00"/>
<line x1="675.4" y1="116.00" x2="672.8" y2="116.00"/>
<line x1="392.8" y1="78.66" x2="395.4" y2="78.66"/>
<line x1="675.4" y1="78.66" x2="672.8" y2="78.66"/>
<line x1="392.8" y1="41.32" x2="395.4" y2="41.32"/>
<line x1="675.4" y1="41.32" x2="672.8" y2="41.32"/>
</g>
<g font-family="'Liberation Sans', sans-serif" font-size="8.6" fill="#262626" text-anchor="middle">
<text x="392.00" y="240.9">-0.015</text>
<text x="423.56" y="240.9">-0.01</text>
<text x="455.12" y="240.9">-0.005</text>
<text x="486.68" y="240.9">0</text>
<text x="518.24" y="240.9">0.005</text>
<text x="549.80" y="240.9">0.01</text>
<text x="581.36" y="240.9">0.015</text>
<text x="612.92" y="240.9">0.02</text>
<text x="644.48" y="240.9">0.025</text>
<text x="676.04" y="240.9">0.03</text>
</g>
<g font-family="'Liberation Sans', sans-serif" font-size="8.6" fill="#262626" text-anchor="end">
<text x="387.9" y="231.80">0</text>
<text x="387.9" y="194.47">0.5</text>
<text x="387.9" y="157.13">1</text>
<text x="387.9" y="119.80">1.5</text>
<text x="387.9" y="82.46">2</text>
<text x="387.9" y="45.12">2.5</text>
<text x="387.9" y="7.79">3</text>
</g>
<g transform="translate(369.90,123.50) rotate(-90)" font-family="'Liberation Serif', serif" font-style="italic" fill="#2a2a2a">
<text x="0" y="0" font-size="12.00" textLength="9.20" lengthAdjust="spacingAndGlyphs">K</text>
<text x="9.30" y="1.60" font-size="8.00">P</text>
</g>
<g font-family="'Liberation Serif', serif" font-style="italic" fill="#2a2a2a">
<text x="528.20" y="253.60" font-size="12.50" textLength="8.00" lengthAdjust="spacingAndGlyphs">R</text>
<text x="536.00" y="255.10" font-size="8.50">e</text>
</g>
<path d="M495.70,228.19 L494.52,227.33 L493.33,226.46 L492.14,225.60 L490.95,224.74 L489.76,223.87 L488.57,223.01 L487.38,222.15 L486.20,221.28 L485.01,220.42 L483.82,219.55 L482.63,218.68 L481.44,217.82 L480.26,216.95 L479.07,216.08 L477.89,215.20 L476.70,214.33 L475.52,213.46 L474.34,212.58 L473.17,211.70 L471.99,210.82 L470.81,209.93 L469.64,209.04 L468.47,208.15 L467.30,207.26 L466.14,206.37 L464.98,205.47 L463.82,204.57 L462.66,203.66 L461.51,202.75 L460.36,201.84 L459.21,200.92 L458.07,200.00 L456.93,199.07 L455.79,198.14 L454.66,197.21 L453.53,196.27 L452.41,195.33 L451.29,194.38 L450.18,193.42 L449.07,192.47 L447.96,191.50 L446.86,190.53 L445.77,189.55 L444.68,188.57 L443.60,187.58 L442.52,186.59 L441.45,185.59 L440.38,184.58 L439.32,183.57 L438.26,182.55 L437.22,181.52 L436.17,180.49 L435.14,179.45 L434.11,178.40 L433.09,177.34 L432.07,176.28 L431.07,175.21 L430.07,174.13 L429.07,173.04 L428.09,171.94 L427.11,170.84 L426.14,169.73 L425.18,168.60 L424.23,167.47 L423.28,166.33 L422.35,165.19 L421.42,164.03 L420.50,162.86 L419.59,161.68 L418.69,160.50 L417.79,159.30 L416.91,158.09 L416.05,156.87 L415.20,155.65 L414.37,154.41 L413.56,153.16 L412.78,151.89 L412.03,150.62 L411.32,149.33 L410.63,148.03 L409.99,146.72 L409.38,145.39 L408.82,144.05 L408.31,142.69 L407.85,141.32 L407.43,139.94 L407.08,138.54 L406.78,137.13 L406.54,135.71 L406.35,134.28 L406.22,132.84 L406.15,131.40 L406.14,129.96 L406.18,128.52 L406.29,127.08 L406.45,125.66 L406.67,124.24 L406.95,122.83 L407.28,121.44 L407.68,120.06 L408.13,118.70 L408.63,117.35 L409.19,116.02 L409.79,114.71 L410.45,113.41 L411.14,112.13 L411.88,110.87 L412.66,109.63 L413.49,108.40 L414.34,107.19 L415.24,106.00 L416.16,104.83 L417.12,103.68 L418.11,102.54 L419.12,101.43 L420.16,100.34 L421.22,99.26 L422.31,98.21 L423.41,97.18 L424.53,96.17 L425.66,95.18 L426.81,94.22 L427.96,93.27 L429.13,92.35 L430.31,91.45 L431.50,90.57 L432.70,89.70 L433.91,88.86 L435.13,88.03 L436.35,87.22 L437.59,86.43 L438.83,85.66 L440.08,84.90 L441.34,84.15 L442.60,83.42 L443.87,82.70 L445.15,82.00 L446.44,81.30 L447.73,80.62 L449.02,79.95 L450.33,79.28 L451.63,78.63 L452.94,77.99 L454.26,77.35 L455.58,76.72 L456.90,76.10 L458.23,75.48 L459.56,74.87 L460.89,74.26 L462.22,73.66 L463.56,73.06 L464.90,72.46 L466.24,71.87 L467.58,71.27 L468.92,70.68 L470.26,70.08 L471.60,69.49 L472.94,68.89 L474.29,68.30 L475.63,67.71 L476.98,67.11 L478.32,66.52 L479.67,65.93 L481.02,65.34 L482.37,64.76 L483.72,64.17 L485.07,63.59 L486.42,63.01 L487.77,62.42 L489.12,61.85 L490.48,61.27 L491.83,60.70 L493.19,60.13 L494.55,59.56 L495.91,58.99 L497.27,58.43 L498.63,57.87 L499.99,57.32 L501.35,56.77 L502.72,56.22 L504.09,55.68 L505.45,55.14 L506.82,54.60 L508.19,54.07 L509.57,53.54 L510.94,53.02 L512.31,52.50 L513.69,51.98 L515.07,51.47 L516.45,50.96 L517.83,50.46 L519.21,49.95 L520.59,49.46 L521.97,48.96 L523.36,48.47 L524.74,47.99 L526.13,47.50 L527.52,47.02 L528.91,46.55 L530.30,46.07 L531.69,45.60 L533.08,45.14 L534.47,44.67 L535.87,44.21 L537.27,43.75 L538.66,43.30 L540.06,42.85 L541.46,42.40 L542.86,41.95 L544.26,41.51 L545.66,41.07 L547.06,40.63 L548.47,40.20 L549.87,39.76 L551.27,39.33 L552.68,38.91 L554.09,38.48 L555.49,38.06 L556.90,37.64 L558.31,37.22 L559.72,36.81 L561.13,36.39 L562.54,35.98 L563.95,35.57 L565.37,35.17 L566.78,34.76 L568.19,34.36 L569.61,33.96 L571.02,33.56 L572.44,33.16 L573.85,32.77 L575.27,32.38 L576.69,31.98 L578.11,31.59 L579.52,31.21 L580.94,30.82 L582.36,30.43 L583.78,30.05 L585.20,29.67 L586.62,29.29 L588.04,28.91 L589.47,28.53 L590.89,28.15 L592.31,27.77 L593.73,27.40 L595.15,27.03 L596.58,26.65 L598.00,26.28 L599.42,25.91 L600.85,25.54 L602.27,25.17 L603.70,24.80 L605.12,24.44 L606.55,24.07 L607.97,23.70 L609.40,23.34 L610.82,22.97 L612.25,22.61 L613.67,22.24 L615.10,21.88 L616.52,21.52 L617.95,21.15 L619.37,20.79 L620.80,20.43 L622.22,20.07 L623.65,19.70 L625.08,19.34 L626.50,18.98 L627.93,18.62 L629.35,18.26 L630.78,17.89 L632.20,17.53 L633.63,17.17 L635.05,16.81 L636.48,16.44 L637.90,16.08 L639.32,15.71 L640.75,15.35 L642.17,14.98 L643.59,14.62 L645.02,14.25 L646.44,13.89 L647.86,13.52 L649.28,13.15 L650.71,12.78 L652.13,12.41 L653.55,12.04 L654.97,11.67 L656.39,11.30 L657.81,10.92 L659.23,10.55 L660.65,10.17 L662.07,9.80 L663.48,9.42 L664.90,9.04 L666.32,8.66 L667.73,8.28 L669.15,7.89 L670.56,7.51" fill="none" stroke="#77ac30" stroke-width="1.45"/>
<rect x="484.10" y="218.90" width="5.0" height="5.0" fill="#fff" stroke="#0072bd" stroke-width="1.6"/>
<circle cx="487" cy="63" r="3.0" fill="#fff" stroke="#f0602a" stroke-width="1.6"/>
<line x1="594" y1="17.4" x2="619.6" y2="17.4" stroke="#77ac30" stroke-width="1.6"/>
<text x="622.2" y="20.3" font-family="'Liberation Serif', serif" font-style="italic" font-size="9.7" fill="#222" textLength="44" lengthAdjust="spacingAndGlyphs">Eigenvalue</text>
<rect x="604.10" y="26.00" width="5.0" height="5.0" fill="#fff" stroke="#0072bd" stroke-width="1.6"/>
<circle cx="606.7" cy="39" r="3.0" fill="#fff" stroke="#f0602a" stroke-width="1.6"/>
<text x="621.8" y="31" font-family="'Liberation Serif', serif" font-size="8.7" fill="#222" textLength="38.6" lengthAdjust="spacing">(0, 0.0945)</text>
<text x="621.8" y="41.4" font-family="'Liberation Serif', serif" font-size="8.7" fill="#222" textLength="38.6" lengthAdjust="spacing">(0, 2.2116)</text>
<rect x="317.50" y="312.4" width="177.30" height="224" fill="#c9d9ec"/>
<g fill="none">
<line x1="210.8" y1="312.4" x2="210.8" y2="536.9" stroke="#9a9a9a" stroke-width="1.2"/>
<line x1="494.8" y1="312.4" x2="494.8" y2="536.9" stroke="#8e98a4" stroke-width="1.2"/>
<line x1="210.2" y1="536.4" x2="495.4" y2="536.4" stroke="#8c949c" stroke-width="1.2"/>
<line x1="210.2" y1="312.6" x2="495.4" y2="312.6" stroke="#555" stroke-width="1.1"/>
</g>
<g stroke="#444" stroke-width="0.9">
<line x1="246.50" y1="535.8" x2="246.50" y2="533"/>
<line x1="246.50" y1="313.2" x2="246.50" y2="316"/>
<line x1="282.00" y1="535.8" x2="282.00" y2="533"/>
<line x1="282.00" y1="313.2" x2="282.00" y2="316"/>
<line x1="317.50" y1="535.8" x2="317.50" y2="533"/>
<line x1="317.50" y1="313.2" x2="317.50" y2="316"/>
<line x1="353.00" y1="535.8" x2="353.00" y2="533"/>
<line x1="353.00" y1="313.2" x2="353.00" y2="316"/>
<line x1="388.50" y1="535.8" x2="388.50" y2="533"/>
<line x1="388.50" y1="313.2" x2="388.50" y2="316"/>
<line x1="424.00" y1="535.8" x2="424.00" y2="533"/>
<line x1="424.00" y1="313.2" x2="424.00" y2="316"/>
<line x1="459.50" y1="535.8" x2="459.50" y2="533"/>
<line x1="459.50" y1="313.2" x2="459.50" y2="316"/>
<line x1="211.4" y1="508.40" x2="214.2" y2="508.40"/>
<line x1="494.2" y1="508.40" x2="491.4" y2="508.40"/>
<line x1="211.4" y1="480.40" x2="214.2" y2="480.40"/>
<line x1="494.2" y1="480.40" x2="491.4" y2="480.40"/>
<line x1="211.4" y1="452.40" x2="214.2" y2="452.40"/>
<line x1="494.2" y1="452.40" x2="491.4" y2="452.40"/>
<line x1="211.4" y1="424.40" x2="214.2" y2="424.40"/>
<line x1="494.2" y1="424.40" x2="491.4" y2="424.40"/>
<line x1="211.4" y1="396.40" x2="214.2" y2="396.40"/>
<line x1="494.2" y1="396.40" x2="491.4" y2="396.40"/>
<line x1="211.4" y1="368.40" x2="214.2" y2="368.40"/>
<line x1="494.2" y1="368.40" x2="491.4" y2="368.40"/>
<line x1="211.4" y1="340.40" x2="214.2" y2="340.40"/>
<line x1="494.2" y1="340.40" x2="491.4" y2="340.40"/>
</g>
<g font-family="'Liberation Sans', sans-serif" font-size="8.6" fill="#262626" text-anchor="middle">
<text x="211.00" y="549.4">-0.03</text>
<text x="246.50" y="549.4">-0.02</text>
<text x="282.00" y="549.4">-0.01</text>
<text x="317.50" y="549.4">0</text>
<text x="353.00" y="549.4">0.01</text>
<text x="388.50" y="549.4">0.02</text>
<text x="424.00" y="549.4">0.03</text>
<text x="459.50" y="549.4">0.04</text>
<text x="495.00" y="549.4">0.05</text>
</g>
<g font-family="'Liberation Sans', sans-serif" font-size="8.6" fill="#262626" text-anchor="end">
<text x="206.8" y="539.50">0</text>
<text x="206.8" y="511.50">0.5</text>
<text x="206.8" y="483.50">1</text>
<text x="206.8" y="455.50">1.5</text>
<text x="206.8" y="427.50">2</text>
<text x="206.8" y="399.50">2.5</text>
<text x="206.8" y="371.50">3</text>
<text x="206.8" y="343.50">3.5</text>
<text x="206.8" y="315.50">4</text>
</g>
<g transform="translate(188.60,431.50) rotate(-90)" font-family="'Liberation Serif', serif" font-style="italic" fill="#2a2a2a">
<text x="0" y="0" font-size="12.00" textLength="8.60" lengthAdjust="spacingAndGlyphs">K</text>
<text x="9.00" y="1.60" font-size="8.00">P</text>
</g>
<g font-family="'Liberation Serif', serif" font-style="italic" fill="#2a2a2a">
<text x="347.30" y="561.60" font-size="12.50" textLength="8.30" lengthAdjust="spacingAndGlyphs">R</text>
<text x="355.10" y="563.10" font-size="8.50">e</text>
</g>
<path d="M332.71,535.94 L331.49,535.07 L330.26,534.20 L329.04,533.34 L327.81,532.47 L326.58,531.62 L325.36,530.76 L324.13,529.91 L322.90,529.07 L321.67,528.22 L320.44,527.38 L319.21,526.54 L317.98,525.71 L316.76,524.88 L315.53,524.05 L314.30,523.22 L313.07,522.39 L311.84,521.57 L310.61,520.75 L309.38,519.93 L308.15,519.11 L306.92,518.29 L305.69,517.48 L304.46,516.66 L303.23,515.85 L302.00,515.03 L300.77,514.22 L299.54,513.41 L298.31,512.60 L297.09,511.79 L295.86,510.98 L294.64,510.17 L293.41,509.35 L292.18,508.54 L290.96,507.73 L289.74,506.92 L288.51,506.10 L287.29,505.29 L286.07,504.47 L284.85,503.65 L283.63,502.83 L282.41,502.01 L281.20,501.19 L279.98,500.37 L278.76,499.54 L277.55,498.71 L276.34,497.88 L275.13,497.05 L273.91,496.21 L272.71,495.37 L271.50,494.53 L270.29,493.69 L269.09,492.84 L267.88,491.99 L266.68,491.13 L265.48,490.27 L264.28,489.41 L263.08,488.54 L261.89,487.67 L260.69,486.80 L259.50,485.92 L258.31,485.03 L257.12,484.14 L255.93,483.25 L254.75,482.35 L253.56,481.44 L252.38,480.53 L251.20,479.62 L250.03,478.70 L248.86,477.77 L247.69,476.83 L246.53,475.89 L245.37,474.94 L244.22,473.97 L243.08,473.00 L241.95,472.02 L240.83,471.03 L239.72,470.03 L238.62,469.01 L237.54,467.99 L236.47,466.95 L235.41,465.89 L234.37,464.83 L233.35,463.74 L232.34,462.65 L231.35,461.53 L230.38,460.40 L229.43,459.26 L228.50,458.09 L227.59,456.91 L226.71,455.71 L225.84,454.48 L225.01,453.24 L224.20,451.98 L223.41,450.70 L222.65,449.40 L221.92,448.07 L221.23,446.73 L220.57,445.36 L219.97,443.99 L219.41,442.60 L218.91,441.20 L218.47,439.79 L218.09,438.37 L217.79,436.95 L217.56,435.53 L217.42,434.10 L217.37,432.68 L217.41,431.26 L217.55,429.85 L217.78,428.44 L218.11,427.04 L218.52,425.66 L219.01,424.28 L219.57,422.92 L220.18,421.57 L220.85,420.23 L221.57,418.92 L222.32,417.62 L223.10,416.34 L223.91,415.08 L224.73,413.84 L225.58,412.62 L226.44,411.42 L227.31,410.24 L228.21,409.07 L229.12,407.93 L230.05,406.81 L231.00,405.71 L231.96,404.62 L232.94,403.55 L233.94,402.50 L234.95,401.47 L235.98,400.46 L237.02,399.46 L238.07,398.48 L239.14,397.51 L240.23,396.56 L241.33,395.63 L242.44,394.71 L243.56,393.81 L244.70,392.93 L245.85,392.05 L247.02,391.19 L248.19,390.35 L249.38,389.52 L250.58,388.70 L251.79,387.90 L253.01,387.11 L254.24,386.33 L255.48,385.57 L256.73,384.82 L257.99,384.07 L259.26,383.35 L260.54,382.63 L261.83,381.92 L263.13,381.22 L264.44,380.54 L265.75,379.86 L267.07,379.20 L268.40,378.54 L269.74,377.89 L271.08,377.26 L272.43,376.63 L273.79,376.01 L275.15,375.40 L276.52,374.79 L277.89,374.19 L279.27,373.61 L280.65,373.02 L282.04,372.45 L283.43,371.88 L284.83,371.32 L286.23,370.76 L287.64,370.21 L289.04,369.67 L290.45,369.13 L291.86,368.59 L293.28,368.06 L294.69,367.53 L296.11,367.01 L297.53,366.49 L298.95,365.98 L300.37,365.46 L301.80,364.95 L303.22,364.45 L304.64,363.94 L306.06,363.44 L307.48,362.94 L308.90,362.44 L310.32,361.94 L311.74,361.45 L313.16,360.95 L314.57,360.46 L315.98,359.96 L317.40,359.47 L318.81,358.98 L320.22,358.49 L321.63,358.00 L323.03,357.51 L324.44,357.02 L325.85,356.53 L327.25,356.05 L328.65,355.56 L330.06,355.08 L331.46,354.60 L332.86,354.11 L334.26,353.63 L335.66,353.15 L337.06,352.68 L338.45,352.20 L339.85,351.72 L341.25,351.25 L342.64,350.77 L344.04,350.30 L345.43,349.83 L346.83,349.36 L348.22,348.89 L349.61,348.42 L351.01,347.95 L352.40,347.49 L353.79,347.02 L355.18,346.56 L356.58,346.10 L357.97,345.64 L359.36,345.18 L360.75,344.72 L362.14,344.26 L363.53,343.81 L364.93,343.35 L366.32,342.90 L367.71,342.44 L369.10,341.99 L370.49,341.54 L371.88,341.09 L373.28,340.65 L374.67,340.20 L376.06,339.76 L377.46,339.31 L378.85,338.87 L380.25,338.43 L381.64,337.99 L383.04,337.55 L384.43,337.12 L385.83,336.68 L387.23,336.25 L388.62,335.81 L390.02,335.38 L391.42,334.95 L392.82,334.52 L394.22,334.10 L395.62,333.67 L397.03,333.25 L398.43,332.82 L399.84,332.40 L401.24,331.98 L402.65,331.56 L404.06,331.15 L405.46,330.73 L406.88,330.32 L408.29,329.90 L409.70,329.49 L411.11,329.08 L412.53,328.67 L413.95,328.27 L415.36,327.86 L416.78,327.46 L418.20,327.06 L419.63,326.66 L421.05,326.26 L422.48,325.86 L423.90,325.46 L425.33,325.07 L426.76,324.67 L428.20,324.28 L429.63,323.89 L431.07,323.50 L432.51,323.12 L433.95,322.73 L435.39,322.35 L436.83,321.97 L438.28,321.59 L439.72,321.21 L441.17,320.83 L442.63,320.46 L444.08,320.08 L445.54,319.71 L447.00,319.34 L448.46,318.97 L449.92,318.61 L451.39,318.24 L452.86,317.88 L454.33,317.51 L455.80,317.15 L457.28,316.80 L458.75,316.44 L460.24,316.08 L461.72,315.73 L463.21,315.38 L464.69,315.03" fill="none" stroke="#f08080" stroke-width="1.5"/>
<path d="M329.27,535.72 L329.02,535.42 L328.77,535.12 L328.51,534.82 L328.24,534.51 L327.98,534.21 L327.71,533.91 L327.44,533.60 L327.17,533.29 L326.89,532.99 L326.61,532.68 L326.33,532.37 L326.05,532.06 L325.77,531.74 L325.48,531.43 L325.19,531.12 L324.90,530.80 L324.60,530.49 L324.30,530.17 L324.01,529.85 L323.70,529.53 L323.40,529.21 L323.10,528.89 L322.79,528.57 L322.48,528.25 L322.17,527.92 L321.86,527.60 L321.55,527.27 L321.23,526.94 L320.92,526.62 L320.60,526.29 L320.28,525.96 L319.96,525.63 L319.64,525.29 L319.32,524.96 L318.99,524.63 L318.67,524.29 L318.34,523.96 L318.01,523.62 L317.68,523.28 L317.35,522.94 L317.02,522.60 L316.69,522.26 L316.36,521.92 L316.03,521.58 L315.70,521.23 L315.36,520.89 L315.03,520.54 L314.69,520.20 L314.36,519.85 L314.03,519.50 L313.69,519.15 L313.35,518.80 L313.02,518.45 L312.68,518.10 L312.35,517.74 L312.01,517.39 L311.67,517.03 L311.34,516.68 L311.00,516.32 L310.67,515.96 L310.33,515.60 L310.00,515.25 L309.66,514.88 L309.33,514.52 L308.99,514.16 L308.66,513.80 L308.33,513.43 L308.00,513.07 L307.67,512.70 L307.34,512.33 L307.01,511.97 L306.68,511.60 L306.35,511.23 L306.02,510.86 L305.70,510.48 L305.37,510.11 L305.05,509.74 L304.73,509.36 L304.41,508.99 L304.09,508.61 L303.77,508.24 L303.45,507.86 L303.14,507.48 L302.82,507.10 L302.51,506.72 L302.20,506.34 L301.89,505.95 L301.59,505.57 L301.28,505.19 L300.98,504.80 L300.68,504.42 L300.38,504.03 L300.08,503.64 L299.78,503.25 L299.49,502.86 L299.20,502.47 L298.91,502.08 L298.63,501.69 L298.34,501.30 L298.06,500.91 L297.78,500.51 L297.51,500.12 L297.23,499.72 L296.96,499.32 L296.69,498.92 L296.43,498.53 L296.16,498.13 L295.90,497.73 L295.65,497.33 L295.39,496.92 L295.14,496.52 L294.89,496.12 L294.65,495.71 L294.41,495.31 L294.17,494.90 L293.94,494.49 L293.70,494.09 L293.48,493.68 L293.25,493.27 L293.03,492.86 L292.81,492.45 L292.60,492.04 L292.39,491.62 L292.18,491.21 L291.98,490.80 L291.78,490.38 L291.59,489.97 L291.40,489.55 L291.21,489.13 L291.03,488.71 L290.85,488.30 L290.68,487.88 L290.51,487.46 L290.34,487.03 L290.18,486.61 L290.02,486.19 L289.87,485.77 L289.72,485.34 L289.58,484.92 L289.44,484.49 L289.31,484.06 L289.18,483.64 L289.05,483.21 L288.94,482.78 L288.82,482.35 L288.71,481.92 L288.61,481.49 L288.51,481.06 L288.41,480.62 L288.33,480.19 L288.24,479.76 L288.16,479.32 L288.09,478.89 L288.02,478.45 L287.96,478.01 L287.91,477.58 L287.86,477.14 L287.81,476.70 L287.77,476.26 L287.74,475.82 L287.71,475.38 L287.69,474.93 L287.67,474.49 L287.66,474.05 L287.66,473.60 L287.66,473.16 L287.67,472.71 L287.68,472.27 L287.70,471.82 L287.73,471.37 L287.76,470.92 L287.80,470.48 L287.85,470.03 L287.90,469.58 L287.96,469.13 L288.02,468.68 L288.09,468.23 L288.16,467.78 L288.24,467.33 L288.33,466.89 L288.42,466.44 L288.51,465.99 L288.62,465.54 L288.73,465.10 L288.84,464.65 L288.96,464.20 L289.08,463.76 L289.22,463.32 L289.35,462.87 L289.49,462.43 L289.64,461.99 L289.79,461.55 L289.95,461.11 L290.11,460.67 L290.28,460.24 L290.45,459.80 L290.63,459.37 L290.81,458.94 L291.00,458.51 L291.20,458.08 L291.40,457.66 L291.60,457.23 L291.81,456.81 L292.02,456.39 L292.24,455.97 L292.46,455.55 L292.69,455.14 L292.92,454.73 L293.16,454.32 L293.41,453.91 L293.65,453.51 L293.90,453.11 L294.16,452.71 L294.42,452.31 L294.69,451.92 L294.96,451.53 L295.23,451.14 L295.51,450.76 L295.80,450.38 L296.08,450.00 L296.38,449.62 L296.67,449.25 L296.97,448.88 L297.28,448.52 L297.59,448.16 L297.90,447.80 L298.22,447.44 L298.54,447.09 L298.86,446.74 L299.19,446.40 L299.52,446.06 L299.86,445.72 L300.20,445.38 L300.54,445.05 L300.89,444.71 L301.23,444.39 L301.58,444.06 L301.94,443.74 L302.30,443.42 L302.66,443.10 L303.02,442.79 L303.38,442.48 L303.75,442.17 L304.12,441.86 L304.49,441.56 L304.87,441.26 L305.24,440.96 L305.62,440.66 L306.00,440.37 L306.39,440.08 L306.77,439.79 L307.16,439.50 L307.55,439.22 L307.94,438.94 L308.33,438.66 L308.72,438.38 L309.11,438.10 L309.51,437.83 L309.90,437.56 L310.30,437.29 L310.70,437.02 L311.10,436.76 L311.50,436.50 L311.90,436.24 L312.30,435.98 L312.70,435.72 L313.11,435.46 L313.51,435.21 L313.91,434.96 L314.31,434.71 L314.72,434.46 L315.12,434.22 L315.52,433.97 L315.93,433.73 L316.33,433.49 L316.73,433.25 L317.13,433.01 L317.54,432.77 L317.94,432.54 L318.34,432.30 L318.74,432.07 L319.14,431.84 L319.53,431.61 L319.93,431.38 L320.33,431.15 L320.72,430.93 L321.11,430.70 L321.51,430.48 L321.90,430.26 L322.29,430.04 L322.67,429.82 L323.06,429.60 L323.44,429.38 L323.83,429.16 L324.21,428.95 L324.59,428.73 L324.96,428.52 L325.34,428.30 L325.71,428.09" fill="none" stroke="#b6ca28" stroke-width="1.6"/>
<path d="M322.20,536.14 L321.66,535.46 L321.11,534.79 L320.55,534.12 L319.99,533.45 L319.42,532.78 L318.84,532.12 L318.26,531.46 L317.67,530.80 L317.07,530.14 L316.47,529.49 L315.86,528.83 L315.24,528.18 L314.63,527.53 L314.00,526.88 L313.37,526.24 L312.74,525.59 L312.10,524.95 L311.46,524.30 L310.82,523.66 L310.17,523.01 L309.52,522.37 L308.87,521.73 L308.21,521.08 L307.55,520.44 L306.89,519.79 L306.23,519.15 L305.56,518.50 L304.90,517.86 L304.23,517.21 L303.57,516.56 L302.90,515.91 L302.23,515.26 L301.56,514.61 L300.90,513.95 L300.23,513.29 L299.57,512.63 L298.90,511.97 L298.24,511.31 L297.58,510.64 L296.92,509.97 L296.26,509.30 L295.60,508.62 L294.95,507.94 L294.30,507.26 L293.65,506.57 L293.01,505.88 L292.37,505.19 L291.73,504.49 L291.10,503.78 L290.47,503.08 L289.85,502.37 L289.23,501.65 L288.62,500.93 L288.01,500.20 L287.41,499.47 L286.82,498.73 L286.23,497.99 L285.65,497.24 L285.07,496.49 L284.51,495.73 L283.95,494.97 L283.40,494.20 L282.86,493.42 L282.33,492.65 L281.81,491.86 L281.30,491.07 L280.81,490.28 L280.32,489.48 L279.85,488.68 L279.39,487.87 L278.94,487.05 L278.51,486.23 L278.09,485.41 L277.69,484.58 L277.30,483.75 L276.93,482.91 L276.57,482.07 L276.23,481.22 L275.91,480.37 L275.61,479.51 L275.32,478.65 L275.05,477.78 L274.80,476.91 L274.57,476.04 L274.35,475.16 L274.16,474.28 L273.98,473.40 L273.82,472.52 L273.67,471.63 L273.55,470.74 L273.44,469.85 L273.35,468.96 L273.28,468.07 L273.22,467.18 L273.18,466.29 L273.16,465.40 L273.16,464.51 L273.18,463.62 L273.21,462.74 L273.26,461.85 L273.33,460.97 L273.42,460.09 L273.52,459.21 L273.65,458.33 L273.79,457.46 L273.94,456.59 L274.12,455.73 L274.31,454.87 L274.52,454.01 L274.75,453.16 L274.99,452.31 L275.25,451.47 L275.53,450.64 L275.83,449.81 L276.14,448.99 L276.47,448.18 L276.82,447.37 L277.19,446.57 L277.57,445.78 L277.97,444.99 L278.39,444.22 L278.82,443.45 L279.28,442.69 L279.75,441.95 L280.23,441.21 L280.74,440.48 L281.26,439.76 L281.79,439.05 L282.34,438.35 L282.91,437.66 L283.49,436.98 L284.09,436.30 L284.70,435.64 L285.32,434.98 L285.95,434.33 L286.60,433.69 L287.26,433.06 L287.93,432.43 L288.61,431.81 L289.30,431.20 L290.00,430.60 L290.72,430.00 L291.44,429.41 L292.17,428.82 L292.90,428.24 L293.65,427.67 L294.40,427.11 L295.16,426.54 L295.92,425.99 L296.69,425.44 L297.47,424.89 L298.25,424.35 L299.04,423.82 L299.83,423.29 L300.62,422.76 L301.42,422.24 L302.22,421.72 L303.02,421.20 L303.82,420.69 L304.63,420.18 L305.43,419.68 L306.24,419.18 L307.05,418.68 L307.85,418.18 L308.66,417.69 L309.47,417.20 L310.28,416.72 L311.09,416.23 L311.90,415.75 L312.71,415.28 L313.52,414.80 L314.33,414.33 L315.15,413.86 L315.96,413.40 L316.77,412.93 L317.59,412.47 L318.40,412.02 L319.22,411.56 L320.03,411.11 L320.85,410.66 L321.66,410.21 L322.48,409.77 L323.30,409.33 L324.12,408.89 L324.94,408.46 L325.76,408.02 L326.58,407.59 L327.40,407.17 L328.22,406.74 L329.04,406.32 L329.86,405.90 L330.69,405.48 L331.51,405.06 L332.33,404.65 L333.16,404.24 L333.98,403.83 L334.81,403.43 L335.64,403.02 L336.46,402.62 L337.29,402.22 L338.12,401.83 L338.95,401.43 L339.78,401.04 L340.61,400.65 L341.44,400.26 L342.27,399.88 L343.10,399.49 L343.94,399.11 L344.77,398.73 L345.60,398.36 L346.44,397.98 L347.27,397.61 L348.11,397.24 L348.95,396.87 L349.78,396.51 L350.62,396.14 L351.46,395.78 L352.30,395.42 L353.14,395.06 L353.98,394.70 L354.82,394.35 L355.66,393.99 L356.50,393.64 L357.34,393.29 L358.19,392.94 L359.03,392.60 L359.88,392.25 L360.72,391.91 L361.57,391.57 L362.41,391.23 L363.26,390.90 L364.11,390.56 L364.96,390.23 L365.81,389.89 L366.66,389.56 L367.51,389.23 L368.36,388.90 L369.21,388.58 L370.06,388.25 L370.92,387.93 L371.77,387.61 L372.62,387.29 L373.48,386.97 L374.34,386.65 L375.19,386.33 L376.05,386.02 L376.91,385.71 L377.77,385.39 L378.62,385.08 L379.48,384.77 L380.34,384.46 L381.21,384.16 L382.07,383.85 L382.93,383.55 L383.79,383.24 L384.66,382.94 L385.52,382.64 L386.39,382.34 L387.25,382.04 L388.12,381.74 L388.99,381.44 L389.86,381.15 L390.73,380.85 L391.59,380.56 L392.47,380.26 L393.34,379.97 L394.21,379.68 L395.08,379.39 L395.95,379.10 L396.83,378.81 L397.70,378.52 L398.58,378.24 L399.45,377.95 L400.33,377.66 L401.21,377.38 L402.09,377.09 L402.96,376.81 L403.84,376.53 L404.72,376.25 L405.60,375.96 L406.49,375.68 L407.37,375.40 L408.25,375.12 L409.14,374.84 L410.02,374.57 L410.91,374.29 L411.79,374.01 L412.68,373.73 L413.57,373.46 L414.46,373.18 L415.35,372.90 L416.24,372.63 L417.13,372.35 L418.02,372.08 L418.91,371.80 L419.80,371.53 L420.70,371.26 L421.59,370.98 L422.49,370.71" fill="none" stroke="#000" stroke-width="1.7"/>
<path d="M322.20,536.14 L321.66,535.46 L321.11,534.79 L320.55,534.12 L319.99,533.45 L319.42,532.78 L318.84,532.12 L318.26,531.46 L317.67,530.80 L317.07,530.14 L316.47,529.49 L315.86,528.83 L315.24,528.18 L314.63,527.53 L314.00,526.88 L313.37,526.24 L312.74,525.59 L312.10,524.95 L311.46,524.30 L310.82,523.66 L310.17,523.01 L309.52,522.37 L308.87,521.73 L308.21,521.08 L307.55,520.44 L306.89,519.79 L306.23,519.15 L305.56,518.50 L304.90,517.86 L304.23,517.21 L303.57,516.56 L302.90,515.91 L302.23,515.26 L301.56,514.61 L300.90,513.95 L300.23,513.29 L299.57,512.63 L298.90,511.97 L298.24,511.31 L297.58,510.64 L296.92,509.97 L296.26,509.30 L295.60,508.62 L294.95,507.94 L294.30,507.26 L293.65,506.57 L293.01,505.88 L292.37,505.19 L291.73,504.49 L291.10,503.78 L290.47,503.08 L289.85,502.37 L289.23,501.65 L288.62,500.93 L288.01,500.20 L287.41,499.47 L286.82,498.73 L286.23,497.99 L285.65,497.24 L285.07,496.49 L284.51,495.73 L283.95,494.97 L283.40,494.20 L282.86,493.42 L282.33,492.65 L281.81,491.86 L281.30,491.07 L280.81,490.28 L280.32,489.48 L279.85,488.68 L279.39,487.87 L278.94,487.05 L278.51,486.23 L278.09,485.41 L277.69,484.58 L277.30,483.75 L276.93,482.91 L276.57,482.07 L276.23,481.22 L275.91,480.37 L275.61,479.51 L275.32,478.65 L275.05,477.78 L274.80,476.91 L274.57,476.04 L274.35,475.16 L274.16,474.28 L273.98,473.40 L273.82,472.52 L273.67,471.63 L273.55,470.74 L273.44,469.85 L273.35,468.96 L273.28,468.07 L273.22,467.18 L273.18,466.29 L273.16,465.40 L273.16,464.51 L273.18,463.62 L273.21,462.74 L273.26,461.85 L273.33,460.97 L273.42,460.09 L273.52,459.21 L273.65,458.33 L273.79,457.46 L273.94,456.59 L274.12,455.73 L274.31,454.87 L274.52,454.01 L274.75,453.16 L274.99,452.31 L275.25,451.47 L275.53,450.64 L275.83,449.81 L276.14,448.99 L276.47,448.18 L276.82,447.37 L277.19,446.57 L277.57,445.78 L277.97,444.99 L278.39,444.22 L278.82,443.45 L279.28,442.69 L279.75,441.95 L280.23,441.21 L280.74,440.48 L281.26,439.76 L281.79,439.05 L282.34,438.35 L282.91,437.66 L283.49,436.98 L284.09,436.30 L284.70,435.64 L285.32,434.98 L285.95,434.33 L286.60,433.69 L287.26,433.06 L287.93,432.43 L288.61,431.81 L289.30,431.20 L290.00,430.60 L290.72,430.00 L291.44,429.41 L292.17,428.82 L292.90,428.24 L293.65,427.67 L294.40,427.11 L295.16,426.54 L295.92,425.99 L296.69,425.44 L297.47,424.89 L298.25,424.35 L299.04,423.82 L299.83,423.29 L300.62,422.76 L301.42,422.24 L302.22,421.72 L303.02,421.20 L303.82,420.69 L304.63,420.18 L305.43,419.68 L306.24,419.18 L307.05,418.68 L307.85,418.18 L308.66,417.69 L309.47,417.20 L310.28,416.72 L311.09,416.23 L311.90,415.75 L312.71,415.28 L313.52,414.80 L314.33,414.33 L315.15,413.86 L315.96,413.40 L316.77,412.93 L317.59,412.47 L318.40,412.02 L319.22,411.56 L320.03,411.11 L320.85,410.66 L321.66,410.21 L322.48,409.77 L323.30,409.33 L324.12,408.89 L324.94,408.46 L325.76,408.02 L326.58,407.59 L327.40,407.17 L328.22,406.74 L329.04,406.32 L329.86,405.90 L330.69,405.48 L331.51,405.06 L332.33,404.65 L333.16,404.24 L333.98,403.83 L334.81,403.43 L335.64,403.02 L336.46,402.62 L337.29,402.22 L338.12,401.83 L338.95,401.43 L339.78,401.04 L340.61,400.65 L341.44,400.26 L342.27,399.88 L343.10,399.49 L343.94,399.11 L344.77,398.73 L345.60,398.36 L346.44,397.98 L347.27,397.61 L348.11,397.24 L348.95,396.87 L349.78,396.51 L350.62,396.14 L351.46,395.78 L352.30,395.42 L353.14,395.06 L353.98,394.70 L354.82,394.35 L355.66,393.99 L356.50,393.64 L357.34,393.29 L358.19,392.94 L359.03,392.60 L359.88,392.25 L360.72,391.91 L361.57,391.57 L362.41,391.23 L363.26,390.90 L364.11,390.56 L364.96,390.23 L365.81,389.89 L366.66,389.56 L367.51,389.23 L368.36,388.90 L369.21,388.58 L370.06,388.25 L370.92,387.93 L371.77,387.61 L372.62,387.29 L373.48,386.97 L374.34,386.65 L375.19,386.33 L376.05,386.02 L376.91,385.71 L377.77,385.39 L378.62,385.08 L379.48,384.77 L380.34,384.46 L381.21,384.16 L382.07,383.85 L382.93,383.55 L383.79,383.24 L384.66,382.94 L385.52,382.64 L386.39,382.34 L387.25,382.04 L388.12,381.74 L388.99,381.44 L389.86,381.15 L390.73,380.85 L391.59,380.56 L392.47,380.26 L393.34,379.97 L394.21,379.68 L395.08,379.39 L395.95,379.10 L396.83,378.81 L397.70,378.52 L398.58,378.24 L399.45,377.95 L400.33,377.66 L401.21,377.38 L402.09,377.09 L402.96,376.81 L403.84,376.53 L404.72,376.25 L405.60,375.96 L406.49,375.68 L407.37,375.40 L408.25,375.12 L409.14,374.84 L410.02,374.57 L410.91,374.29 L411.79,374.01 L412.68,373.73 L413.57,373.46 L414.46,373.18 L415.35,372.90 L416.24,372.63 L417.13,372.35 L418.02,372.08 L418.91,371.80 L419.80,371.53 L420.70,371.26 L421.59,370.98 L422.49,370.71" fill="none" stroke="#cc6a3c" stroke-width="1" stroke-dasharray="1.2 1.2"/>
<line x1="361" y1="326.1" x2="386.5" y2="326.1" stroke="#f08080" stroke-width="1.5"/>
<line x1="361" y1="336.8" x2="386.5" y2="336.8" stroke="#b6ca28" stroke-width="1.6"/>
<line x1="361" y1="347.6" x2="386.5" y2="347.6" stroke="#000" stroke-width="1.6"/>
<line x1="361" y1="358.3" x2="386.5" y2="358.3" stroke="#b85a40" stroke-width="1.2" stroke-dasharray="1.5 1"/>
<g font-family="'Liberation Serif', serif" font-size="9.3" fill="#222">
<text x="388.9" y="328.5" textLength="40.5" lengthAdjust="spacing">First-order</text>
<text x="388.9" y="339.2" textLength="49" lengthAdjust="spacing">Second-order</text>
<text x="388.9" y="350" textLength="48" lengthAdjust="spacing">Fourth-order</text>
<text x="388.9" y="360.7" textLength="96.8" lengthAdjust="spacing">Parameter-varying model</text>
</g>
<g font-family="'Liberation Serif', serif" font-size="17" fill="#2a2a2a">
<text x="75.8" y="279.6" textLength="226" lengthAdjust="spacing">(<tspan font-style="italic">g</tspan>) The eigenvalues under PVM</text>
<text x="406.8" y="279.6" textLength="242.8" lengthAdjust="spacing">(<tspan font-style="italic">h</tspan>) The real part of the eigenvalue</text>
<text x="245" y="587.5" textLength="204.3" lengthAdjust="spacing">(<tspan font-style="italic">i</tspan>) Different penstock models</text>
</g>
</svg>
</body></html>
